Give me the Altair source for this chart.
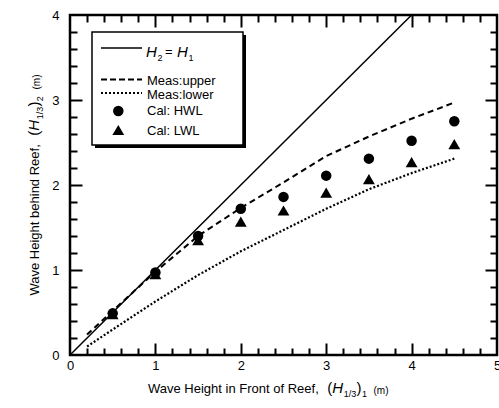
import altair as alt
import pandas as pd

# ---------------- data ----------------
ident_h1 = [0.0, 4.0]
ident_h2 = [0.0, 4.0]

meas_h1 = [0.2, 0.5, 1.0, 1.5, 2.0, 2.5, 3.0, 3.5, 4.0, 4.5]
meas_upper = [0.24, 0.52, 0.98, 1.40, 1.73, 2.03, 2.34, 2.57, 2.78, 2.97]
meas_lower = [0.10, 0.30, 0.63, 0.94, 1.22, 1.47, 1.72, 1.95, 2.14, 2.31]

cal_h1 = [0.5, 1.0, 1.5, 2.0, 2.5, 3.0, 3.5, 4.0, 4.5]
cal_hwl = [0.49, 0.97, 1.40, 1.72, 1.86, 2.11, 2.31, 2.52, 2.75]
cal_lwl = [0.48, 0.95, 1.35, 1.57, 1.70, 1.91, 2.07, 2.27, 2.48]

x_labels = [0, 1, 2, 3, 4, 5]
y_labels = [0, 1, 2, 3, 4]
x_major = [1, 2, 3, 4]
y_major = [1, 2, 3]
x_minor = [0.2, 0.4, 0.6, 0.8, 1.2, 1.4, 1.6, 1.8, 2.2, 2.4, 2.6, 2.8,
           3.2, 3.4, 3.6, 3.8, 4.2, 4.4, 4.6, 4.8]
y_minor = [0.2, 0.4, 0.6, 0.8, 1.2, 1.4, 1.6, 1.8, 2.2, 2.4, 2.6, 2.8,
           3.2, 3.4, 3.6, 3.8]

legend_labels = ["Meas:upper", "Meas:lower", "Cal: HWL", "Cal: LWL"]
x_title_main = "Wave Height in Front of Reef,"
y_title_main = "Wave Height behind Reef,"

# ---------------- layout ----------------
W, H = 427, 340
OX, OY = 70, 15
F = "Liberation Sans"
MINOR, MAJOR = 7, 12


def px(v):
    return v - OX


def py(v):
    return v - OY


xs = alt.Scale(domain=[0, 5], nice=False, zero=False)
ys = alt.Scale(domain=[0, 4], nice=False, zero=False)

lab_common = dict(ticks=False, tickSize=0, domain=False, grid=False, title=None,
                  labelFontSize=13, labelFont=F, labelColor="black",
                  labelOverlap=False, format="d")
x_lab = alt.Axis(orient="bottom", values=x_labels, labelPadding=4, labelFlush=False, **lab_common)
y_lab = alt.Axis(orient="left", values=y_labels, labelPadding=11, **lab_common)


def tick_axis(orient, vals, ln):
    # inward ticks: axis line moved ln px inside, ticks of ln px reach the frame
    return alt.Axis(orient=orient, values=vals, labels=False, domain=False, grid=False,
                    title=None, ticks=True, tickSize=ln, offset=-ln, tickWidth=2,
                    tickColor="black", tickOpacity=1)


one = pd.DataFrame({"k": [0]})
layers = []

# ---- data layers (each also carries axes) ----
ident = pd.DataFrame({"H1": ident_h1, "H2": ident_h2})
layers.append(alt.Chart(ident).mark_line(color="black", strokeWidth=1.5).encode(
    x=alt.X("H1:Q", scale=xs, axis=x_lab), y=alt.Y("H2:Q", scale=ys, axis=y_lab)))

meas = pd.DataFrame({"H1": meas_h1, "upper": meas_upper, "lower": meas_lower})
layers.append(alt.Chart(meas).mark_line(color="black", strokeWidth=2, strokeDash=[6, 4]).encode(
    x=alt.X("H1:Q", scale=xs, axis=tick_axis("bottom", x_minor, MINOR)),
    y=alt.Y("upper:Q", scale=ys, axis=tick_axis("left", y_minor, MINOR))))
layers.append(alt.Chart(meas).mark_line(color="black", strokeWidth=2.2, strokeDash=[2, 2]).encode(
    x=alt.X("H1:Q", scale=xs, axis=tick_axis("bottom", x_major, MAJOR)),
    y=alt.Y("lower:Q", scale=ys, axis=tick_axis("left", y_major, MAJOR))))

cal = pd.DataFrame({"H1": cal_h1, "hwl": cal_hwl, "lwl": cal_lwl})
layers.append(alt.Chart(cal).mark_point(shape="circle", filled=True, size=110, color="black", opacity=1).encode(
    x=alt.X("H1:Q", scale=xs, axis=tick_axis("top", x_minor, MINOR)),
    y=alt.Y("hwl:Q", scale=ys, axis=tick_axis("right", y_minor, MINOR))))
layers.append(alt.Chart(cal).mark_point(shape="triangle-up", filled=True, size=140, color="black", opacity=1).encode(
    x=alt.X("H1:Q", scale=xs, axis=tick_axis("top", x_major, MAJOR)),
    y=alt.Y("lwl:Q", scale=ys, axis=tick_axis("right", y_major, MAJOR))))


def txt(s, x, y, size=13, italic=False, angle=0, align="left", baseline="alphabetic"):
    kw = dict(text=s, font=F, fontSize=size, color="black", align=align, baseline=baseline)
    if italic:
        kw["fontStyle"] = "italic"
    if angle:
        kw["angle"] = angle
    return alt.Chart(one).mark_text(**kw).encode(x=alt.value(x), y=alt.value(y))


# x-axis title: Wave Height in Front of Reef,  (H_1/3)_1 (m)
bx, sb = py(393), py(397)
layers += [
    txt(x_title_main, px(148), bx),
    txt("(", px(327.2), bx, size=15),
    txt("H", px(332.2), bx, size=15, italic=True),
    txt("1/3", px(343.8), sb, size=9),
    txt(")", px(356.6), bx, size=15),
    txt("1", px(362), sb, size=9),
    txt("(m)", px(373.5), py(394), size=10),
]

# y-axis title (rotated, reads bottom to top)
by, sby = px(39), px(43)
layers += [
    txt(y_title_main, by, py(295.5), angle=270),
    txt("(", by, py(135.8), size=15, angle=270),
    txt("H", by, py(130.8), size=15, italic=True, angle=270),
    txt("1/3", sby, py(119.3), size=9, angle=270),
    txt(")", by, py(106.6), size=15, angle=270),
    txt("2", sby, py(101.2), size=9, angle=270),
    txt("(m)", px(40), py(89.5), size=10, angle=270),
]

# legend box with drop shadow
L, T, R, B = 92, 32, 243, 145
layers.append(alt.Chart(one).mark_rect(fill="black").encode(
    x=alt.value(px(L + 3)), x2=alt.value(px(R + 3)), y=alt.value(py(T + 3)), y2=alt.value(py(B + 3))))
layers.append(alt.Chart(one).mark_rect(fill="white", stroke="black", strokeWidth=1.5).encode(
    x=alt.value(px(L)), x2=alt.value(px(R)), y=alt.value(py(T)), y2=alt.value(py(B))))

lx1, lx2, tx = px(101), px(142), px(147)
layers.append(alt.Chart(one).mark_rule(color="black", strokeWidth=1.5).encode(
    x=alt.value(lx1), x2=alt.value(lx2), y=alt.value(py(48))))
layers += [
    txt("H", px(146), py(56.5), size=15, italic=True),
    txt("2", px(157.5), py(61), size=9),
    txt("=", px(165), py(55.5), size=13),
    txt("H", px(177), py(56.5), size=15, italic=True),
    txt("1", px(188.5), py(61), size=9),
]
layers.append(alt.Chart(one).mark_rule(color="black", strokeWidth=2, strokeDash=[6, 3]).encode(
    x=alt.value(lx1), x2=alt.value(lx2), y=alt.value(py(79.5))))
layers.append(alt.Chart(one).mark_rule(color="black", strokeWidth=2.2, strokeDash=[2, 2]).encode(
    x=alt.value(lx1), x2=alt.value(lx2), y=alt.value(py(93))))
layers.append(alt.Chart(one).mark_point(shape="circle", filled=True, size=110, color="black", opacity=1).encode(
    x=alt.value(px(118.3)), y=alt.value(py(111))))
layers.append(alt.Chart(one).mark_point(shape="triangle-up", filled=True, size=140, color="black", opacity=1).encode(
    x=alt.value(px(118.3)), y=alt.value(py(130))))
for lab, base in zip(legend_labels, [84.5, 98.5, 115, 134.5]):
    layers.append(txt(lab, tx, py(base)))

chart = alt.layer(*layers).resolve_axis(x="independent", y="independent").properties(
    width=W, height=H,
    padding={"left": OX, "top": OY, "right": 499 - OX - W, "bottom": 408 - OY - H},
    autosize=alt.AutoSizeParams(type="none"),
    background="white",
).configure_view(stroke="black", strokeWidth=2.5)

chart.save("out.html", embed_options={"renderer": "svg", "actions": False})
